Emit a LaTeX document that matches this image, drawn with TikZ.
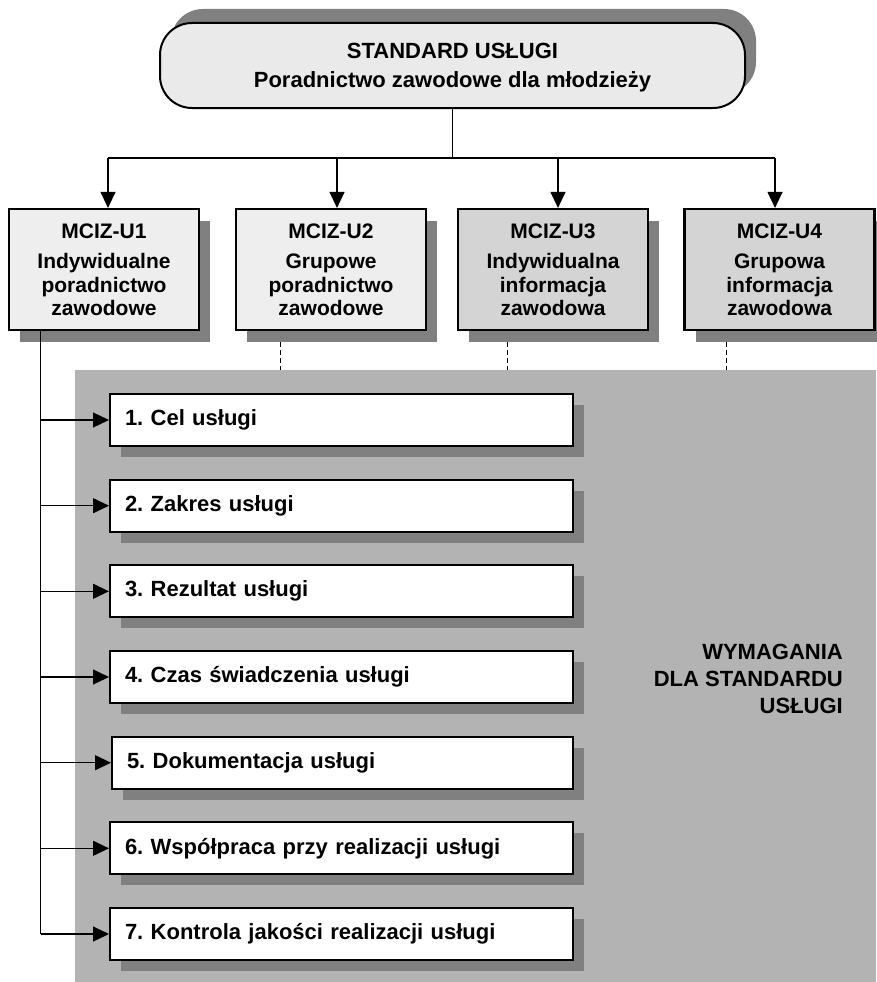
\documentclass[tikz,border=0pt]{standalone}
\usepackage{fontspec}
\setmainfont{Liberation Sans}
\usetikzlibrary{arrows.meta,shadows}
\frenchspacing
\definecolor{shadowc}{HTML}{808080}
\definecolor{topc}{HTML}{EAEAEA}
\definecolor{lightc}{HTML}{EEEEEE}
\definecolor{darkc}{HTML}{D4D4D4}
\definecolor{regionc}{HTML}{B3B3B3}
\begin{document}
\begin{tikzpicture}[x=1pt,y=-1pt,
  conn/.style={line width=1.2pt},
  arr/.style={conn,-{Triangle[length=16pt,width=15pt]}},
  dashline/.style={line width=1pt,dash pattern=on 5pt off 3pt},
  topbox/.style={draw,line width=2pt,fill=topc,rounded corners=32pt,
    minimum width=585pt,minimum height=85pt,inner sep=0pt,align=center,text depth=-4pt,
    font=\bfseries\fontsize{22}{28.5}\selectfont,
    general shadow={fill=shadowc,shadow xshift=11pt,shadow yshift=14pt}},
  ubox/.style={draw,line width=2.2pt,minimum width=190pt,minimum height=121pt,
    inner sep=0pt,align=center,text depth=-6pt,font=\bfseries\fontsize{21}{23.5}\selectfont,
    general shadow={fill=shadowc,shadow xshift=11pt,shadow yshift=-12pt}},
  item/.style={draw,line width=2pt,fill=white,minimum width=463pt,minimum height=52pt,
    text width=433pt,inner xsep=15pt,inner ysep=0pt,align=left,
    font=\bfseries\fontsize{22}{26}\selectfont,
    general shadow={fill=shadowc,shadow xshift=11pt,shadow yshift=-11pt}},
  region/.style={fill=regionc,inner sep=0pt,minimum width=801pt,minimum height=612pt},
  reqlabel/.style={inner sep=0pt,align=right,font=\bfseries\fontsize{22}{27}\selectfont}
]
\useasboundingbox (0,0) rectangle (876,982);
% requirements region
\node[region,anchor=north west] (req) at (75,370) {};
% top box
\node[topbox] (top) at (452.5,65.5) {STANDARD USŁUGI\\Poradnictwo zawodowe dla młodzieży};
% four service boxes
\node[ubox,fill=lightc] (u1) at (104,269.5) {MCIZ-U1\\[7pt]Indywidualne\\poradnictwo\\zawodowe};
\node[ubox,fill=lightc] (u2) at (331,269.5) {MCIZ-U2\\[7pt]Grupowe\\poradnictwo\\zawodowe};
\node[ubox,fill=darkc] (u3) at (553,269.5) {MCIZ-U3\\[7pt]Indywidualna\\informacja\\zawodowa};
\node[ubox,fill=darkc] (u4) at (779.5,269.5) {MCIZ-U4\\[7pt]Grupowa\\informacja\\zawodowa};
% connectors from top box
\coordinate (hub) at (top.south |- 0,158);
\coordinate (h1) at (108,158);
\coordinate (h2) at (337,158);
\coordinate (h3) at (558,158);
\coordinate (h4) at (775,158);
\draw[conn] (top.south) -- (hub);
\draw[conn] (h1) -- (h4);
\draw[arr] (h1) -- (h1 |- u1.north);
\draw[arr] (h2) -- (h2 |- u2.north);
\draw[arr] (h3) -- (h3 |- u3.north);
\draw[arr] (h4) -- (h4 |- u4.north);
% dashed links to region
\coordinate (d2) at (280,342);
\coordinate (d3) at (507,342);
\coordinate (d4) at (726,342);
\draw[dashline] (d2) -- (d2 |- req.north);
\draw[dashline] (d3) -- (d3 |- req.north);
\draw[dashline] (d4) -- (d4 |- req.north);
% items
\node[item] (i1) at (341.5,420) {1. Cel usługi};
\node[item] (i2) at (341.5,505.7) {2. Zakres usługi};
\node[item] (i3) at (341.5,591.3) {3. Rezultat usługi};
\node[item] (i4) at (341.5,677) {4. Czas świadczenia usługi};
\node[item,minimum width=461pt,text width=431pt] (i5) at (342.5,762.7) {5. Dokumentacja usługi};
\node[item] (i6) at (341.5,848.3) {6. Współpraca przy realizacji usługi};
\node[item] (i7) at (341.5,934) {7. Kontrola jakości realizacji usługi};
% trunk
\coordinate (trunk) at (40.5,0);
\draw[conn] (u1.south -| trunk) -- (trunk |- i7.west);
\draw[arr] (trunk |- i1.west) -- (i1.west);
\draw[arr] (trunk |- i2.west) -- (i2.west);
\draw[arr] (trunk |- i3.west) -- (i3.west);
\draw[arr] (trunk |- i4.west) -- (i4.west);
\draw[arr] (trunk |- i5.west) -- (i5.west);
\draw[arr] (trunk |- i6.west) -- (i6.west);
\draw[arr] (trunk |- i7.west) -- (i7.west);
% region label
\node[reqlabel,anchor=east] (wym) at (843,679) {WYMAGANIA\\DLA STANDARDU\\USŁUGI};
\end{tikzpicture}
\end{document}
